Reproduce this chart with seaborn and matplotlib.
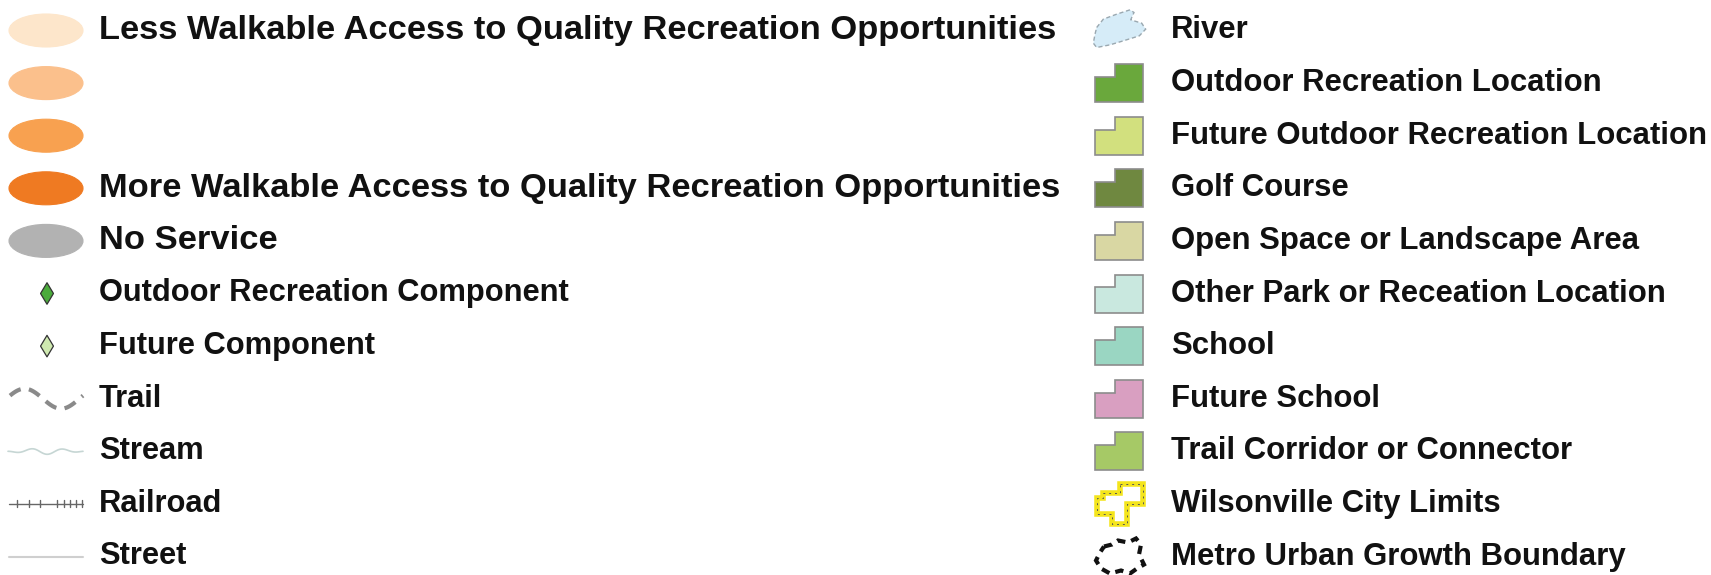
import numpy as np
import pandas as pd
import matplotlib
matplotlib.use("Agg")
import matplotlib.pyplot as plt
import matplotlib.patches as mpatches
import seaborn as sns

# legend entries, left column
left_labels = ["Less Walkable Access to Quality Recreation Opportunities", "", "",
               "More Walkable Access to Quality Recreation Opportunities", "No Service",
               "Outdoor Recreation Component", "Future Component",
               "Trail", "Stream", "Railroad", "Street"]
ellipse_colors = ["#fde6cb", "#fbc08c", "#f8a150", "#ef7a22", "#b2b2b2"]
diamond_colors = ["#4bab3c", "#cfe9b0"]

# legend entries, right column
right_labels = ["River", "Outdoor Recreation Location", "Future Outdoor Recreation Location",
                "Golf Course", "Open Space or Landscape Area", "Other Park or Receation Location",
                "School", "Future School", "Trail Corridor or Connector",
                "Wilsonville City Limits", "Metro Urban Growth Boundary"]
area_colors = ["#6aa83c", "#d2e07e", "#6f8840", "#d9d7a3", "#c9e8df",
               "#9ad6c2", "#d99fc1", "#a6c966"]

W, H = 1711, 575
sns.set_theme(style="white")
plt.rcParams['font.family'] = ['Liberation Sans', 'DejaVu Sans']

fig = plt.figure(figsize=(W / 100, H / 100), dpi=100)
ax = fig.add_axes([0, 0, 1, 1])
ax.set_xlim(0, W)
ax.set_ylim(H, 0)
ax.axis("off")

y0, step = 30.5, 52.6
rows = [y0 + i * step for i in range(11)]
fs_big, fs, fs_right = 24.8, 22.2, 22.4

# left column text (service scale is set larger than the rest)
for i, (y, lab) in enumerate(zip(rows, left_labels)):
    ax.text(99, y, lab, fontsize=fs_big if i < 5 else fs, fontweight="bold",
            va="center", ha="left", color="#111111")

# service ellipses
for y, c in zip(rows[:5], ellipse_colors):
    ax.add_patch(mpatches.Ellipse((46, y), 74, 33, facecolor=c, edgecolor=c, lw=0.8))

# component diamonds
dia = pd.DataFrame({"x": [47, 47], "y": rows[5:7], "kind": ["built", "future"]})
sns.scatterplot(data=dia, x="x", y="y", hue="kind", palette=diamond_colors, marker="d",
                s=120, edgecolor="#333333", linewidth=0.9, legend=False, ax=ax)

# trail: dashed wave
tx = np.linspace(10, 83, 80)
ax.plot(tx, rows[7] + 10 * np.sin((tx - 10) / 73 * 2 * np.pi + np.pi * 1.1),
        color="#8a8a8a", lw=3, ls=(0, (3, 2)))
# stream: thin wavy line
sx = np.linspace(8, 83, 120)
ax.plot(sx, rows[8] + 3 * np.sin((sx - 8) / 5.0) * np.sin((sx - 8) / 75 * np.pi),
        color="#c6d6d4", lw=1.2)
# railroad
ax.plot([9, 83], [rows[9], rows[9]], color="#666666", lw=1)
for tk in [17, 29, 40, 57, 64, 70, 76, 82]:
    ax.plot([tk, tk], [rows[9] - 3.5, rows[9] + 3.5], color="#666666", lw=1)
# street
ax.plot([9, 83], [rows[10], rows[10]], color="#cfcfcf", lw=1.5)

# right column text
for y, lab in zip(rows, right_labels):
    ax.text(1171, y, lab, fontsize=fs_right, fontweight="bold", va="center", ha="left",
            color="#111111")

# river blob
ry = rows[0]
river_z = [(50, 75), (70, 50), (110, 35), (150, 22), (162, 30), (152, 52), (185, 62),
           (197, 80), (178, 100), (130, 115), (90, 127), (50, 135), (40, 122), (45, 95)]
river = [(1080 + zx / 3, zy / 3 - 28 + ry) for zx, zy in river_z]
ax.add_patch(mpatches.Polygon(river, closed=True, facecolor="#d6ecf8",
                              edgecolor="#9aa8b0", lw=1, ls=(0, (3, 2))))

# stepped area swatches
def step_shape(y):
    x0, x1 = 1095, 1143
    t, b = y - 19, y + 19
    xn, yn = x0 + 0.41 * (x1 - x0), t + 0.34 * (b - t)
    return [(x0, b), (x0, yn), (xn, yn), (xn, t), (x1, t), (x1, b)]

for y, c in zip(rows[1:9], area_colors):
    ax.add_patch(mpatches.Polygon(step_shape(y), closed=True, facecolor=c,
                                  edgecolor="#8c8c8c", lw=1.2))

# city limits / UGB outlines
def cross(y):
    pts = [(1120, -20), (1143, -20), (1143, 0), (1127, 0), (1127, 20), (1112, 20),
           (1112, 10), (1097, 10), (1097, -6), (1103, -6), (1103, -11), (1120, -11)]
    return [(px, y + py) for px, py in pts]

def ugb(y):
    pts = [(1104, -10), (1112, -12), (1118, -16), (1128, -14), (1136, -18), (1141, -12),
           (1139, -2), (1144, 8), (1137, 12), (1130, 17), (1121, 14), (1110, 17),
           (1101, 12), (1096, 4), (1100, -4)]
    return [(px, y + py) for px, py in pts]

ax.add_patch(mpatches.Polygon(cross(rows[9]), closed=True, facecolor="none",
                              edgecolor="#f4e51c", lw=4))
ax.add_patch(mpatches.Polygon(cross(rows[9]), closed=True, facecolor="none",
                              edgecolor="#555555", lw=0.7, ls=(0, (2, 4))))
ax.add_patch(mpatches.Polygon(ugb(rows[10]), closed=True, facecolor="none",
                              edgecolor="#111111", lw=3, ls=(0, (2, 1.5))))

fig.savefig("out.png", dpi=100, facecolor="white")
